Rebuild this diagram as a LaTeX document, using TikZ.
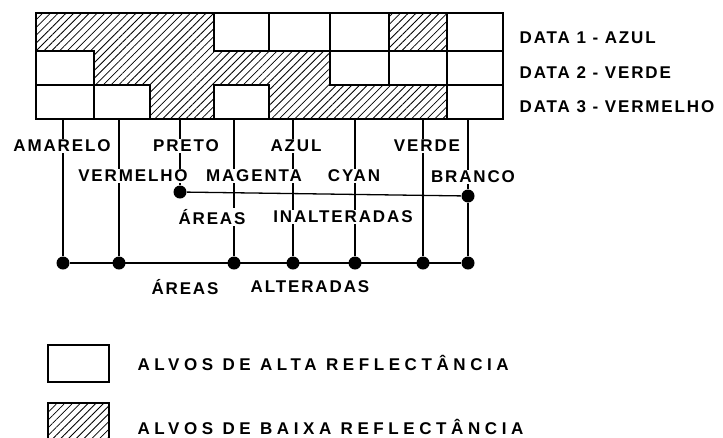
\documentclass[tikz,border=0pt]{standalone}
\usepackage{fontspec}
\newfontfamily\lblfont[LetterSpace=11]{Liberation Sans}
\newfontfamily\legfont[LetterSpace=27]{Liberation Sans}
\usetikzlibrary{patterns.meta}
\usetikzlibrary{positioning}

\begin{document}
\begin{tikzpicture}[x=1pt,y=-1pt,line width=1.3pt,
	cell/.style={draw,line width=1.2pt},
	hatch/.style={pattern={Lines[angle=45,distance=5.5pt,line width=0.8pt]}},
	dot/.style={circle,fill,inner sep=0pt,minimum size=13pt},
	lbl/.style={fill=white,inner sep=1pt,font=\lblfont\bfseries\fontsize{17}{19}\selectfont},
	leg/.style={inner sep=1pt,font=\legfont\bfseries\fontsize{17}{19}\selectfont}]
	
	\useasboundingbox (0,0) rectangle (723,437);
	\clip (0,0) rectangle (723,437);
	
	% bands
	\fill[hatch] (36,13) rectangle (214,51) (389,13) rectangle (447,51)
	(94,51) rectangle (330,85) (150,85) rectangle (214,119) (269,85) rectangle (447,119);
	\foreach \xa/\xb/\ya/\yb in {214/269/13/51,269/330/13/51,330/389/13/51,447/503/13/51,
		36/94/51/85,330/389/51/85,389/447/51/85,447/503/51/85,
		36/94/85/119,94/150/85/119,214/269/85/119,447/503/85/119}
	\draw[cell] (\xa,\ya) rectangle (\xb,\yb);
	\draw[line width=2pt] (36,13) rectangle (503,119);
	
	\node[lbl,anchor=west] (d1) at (518,38) {DATA 1 - AZUL};
	\node[lbl,anchor=west] (d2) at (518,73) {DATA 2 - VERDE};
	\node[lbl,anchor=west] (d3) at (518,107) {DATA 3 - VERMELHO};
	
	\foreach \n/\x in {1/63,2/119,3/180,4/234,5/293,6/355,7/423,8/468}
	\coordinate (t\n) at (\x,119);
	
	\foreach \n/\x in {1/63,2/119,4/234,5/293,6/355,7/423,8/468}
	\node[dot] (a\n) at (\x,263) {};
	\node[dot] (u3) at (180,192) {};
	\node[dot] (u8) at (468,196) {};
	
	\draw (a1) -- (a8);
	\draw (u3) -- (u8);
	\foreach \n in {1,2,4,5,6,7}
	\draw (t\n) -- (a\n);
	\draw (t3) -- (u3);
	\draw (t8) -- (u8) -- (a8);
	
	\node[lbl] (amarelo) at (62,146) {AMARELO};
	\node[lbl] (preto) at (186,146) {PRETO};
	\node[lbl] (azul) at (296,146) {AZUL};
	\node[lbl] (verde) at (427,146) {VERDE};
	\node[lbl] (vermelho) at (133,176) {VERMELHO};
	\node[lbl] (magenta) at (254,176) {MAGENTA};
	\node[lbl] (cyan) at (354,176) {CYAN};
	\node[lbl] (branco) at (473,177) {BRANCO};
	
	\node[lbl] (ai) at (212,217) {ÁREAS};
	\node[lbl] (inalt) at (343,217) {INALTERADAS};
	\node[lbl] (aa) at (185,287) {ÁREAS};
	\node[lbl] (alt) at (310,287) {ALTERADAS};
	
	% legenda
	\node[draw,minimum width=61pt,minimum height=37pt,inner sep=0pt] (alta) at (78.5,363.5) {};
	\node[draw,hatch,minimum width=61pt,minimum height=37pt,inner sep=0pt] (baixa) at (78.5,421.5) {};
	\node[leg,anchor=west] (talta) at (136,363) {ALVOS DE ALTA REFLECTÂNCIA};
	\node[leg,anchor=west] (tbaixa) at (136,427) {ALVOS DE BAIXA REFLECTÂNCIA};
\end{tikzpicture}
\end{document}
